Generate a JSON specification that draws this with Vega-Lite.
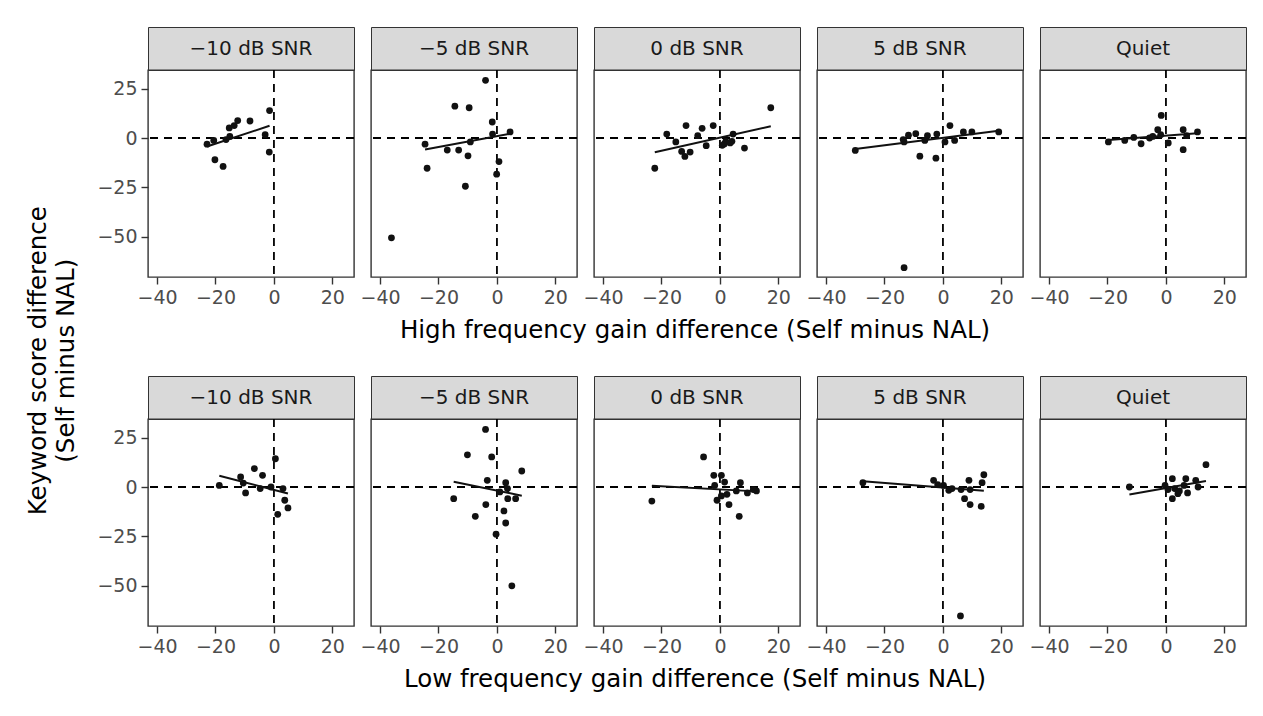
{
  "$schema": "https://vega.github.io/schema/vega-lite/v6.json",
  "padding": {"top": 26, "left": 25, "right": 5, "bottom": 5},
  "background": "#ffffff",
  "title": {"text": ["Keyword score difference", "(Self minus NAL)"], "orient": "left", "anchor": "middle", "fontSize": 24.5, "font": "DejaVu Sans", "fontWeight": "normal", "color": "#000000", "offset": 17, "lineHeight": 28},
  "config": {
    "font": "DejaVu Sans",
    "view": {"stroke": "#333333", "strokeWidth": 1.4},
    "axis": {"domain": false, "gridColor": "#ebebeb", "tickColor": "#333333", "tickSize": 7, "tickWidth": 1.4, "labelColor": "#4d4d4d", "labelFontSize": 19, "labelFont": "DejaVu Sans", "titleFont": "DejaVu Sans", "titleFontSize": 24, "titleFontWeight": "normal", "titleColor": "#000000", "labelPadding": 4, "titlePadding": 8, "minExtent": 0}
  },
  "datasets": {
    "pts": [
      {"freq":"High","snr":"-10","x":-22.9,"y":-3.1,"out":0},
      {"freq":"High","snr":"-10","x":-20.6,"y":-1.2,"out":0},
      {"freq":"High","snr":"-10","x":-20.2,"y":-11.0,"out":0},
      {"freq":"High","snr":"-10","x":-17.4,"y":-14.4,"out":0},
      {"freq":"High","snr":"-10","x":-16.4,"y":-0.8,"out":0},
      {"freq":"High","snr":"-10","x":-15.1,"y":0.8,"out":0},
      {"freq":"High","snr":"-10","x":-15.3,"y":5.1,"out":0},
      {"freq":"High","snr":"-10","x":-13.6,"y":6.3,"out":0},
      {"freq":"High","snr":"-10","x":-12.4,"y":8.8,"out":0},
      {"freq":"High","snr":"-10","x":-8.2,"y":8.6,"out":0},
      {"freq":"High","snr":"-10","x":-3.0,"y":1.7,"out":0},
      {"freq":"High","snr":"-10","x":-1.5,"y":13.9,"out":0},
      {"freq":"High","snr":"-10","x":-1.6,"y":-7.1,"out":0},

      {"freq":"High","snr":"-5","x":-3.9,"y":29.2,"out":0},
      {"freq":"High","snr":"-5","x":-14.4,"y":16.1,"out":0},
      {"freq":"High","snr":"-5","x":-9.5,"y":15.3,"out":0},
      {"freq":"High","snr":"-5","x":-1.6,"y":8.1,"out":0},
      {"freq":"High","snr":"-5","x":-1.5,"y":2.0,"out":0},
      {"freq":"High","snr":"-5","x":4.5,"y":3.1,"out":0},
      {"freq":"High","snr":"-5","x":-24.6,"y":-3.1,"out":0},
      {"freq":"High","snr":"-5","x":-9.1,"y":-2.0,"out":0},
      {"freq":"High","snr":"-5","x":-17.0,"y":-6.1,"out":0},
      {"freq":"High","snr":"-5","x":-13.1,"y":-6.1,"out":0},
      {"freq":"High","snr":"-5","x":-9.9,"y":-9.0,"out":0},
      {"freq":"High","snr":"-5","x":-23.9,"y":-15.3,"out":0},
      {"freq":"High","snr":"-5","x":0.7,"y":-11.9,"out":0},
      {"freq":"High","snr":"-5","x":-0.1,"y":-18.3,"out":0},
      {"freq":"High","snr":"-5","x":-10.8,"y":-24.4,"out":0},
      {"freq":"High","snr":"-5","x":-36.1,"y":-50.5,"out":1},

      {"freq":"High","snr":"0","x":17.4,"y":15.3,"out":0},
      {"freq":"High","snr":"0","x":-18.2,"y":2.0,"out":0},
      {"freq":"High","snr":"0","x":-11.6,"y":6.3,"out":0},
      {"freq":"High","snr":"0","x":-6.1,"y":4.9,"out":0},
      {"freq":"High","snr":"0","x":-2.3,"y":6.3,"out":0},
      {"freq":"High","snr":"0","x":-7.6,"y":1.2,"out":0},
      {"freq":"High","snr":"0","x":-15.1,"y":-2.0,"out":0},
      {"freq":"High","snr":"0","x":-13.1,"y":-6.8,"out":0},
      {"freq":"High","snr":"0","x":-12.0,"y":-9.3,"out":0},
      {"freq":"High","snr":"0","x":-10.2,"y":-7.1,"out":0},
      {"freq":"High","snr":"0","x":-4.7,"y":-3.9,"out":0},
      {"freq":"High","snr":"0","x":-22.3,"y":-15.3,"out":0},
      {"freq":"High","snr":"0","x":0.8,"y":-3.7,"out":0},
      {"freq":"High","snr":"0","x":2.0,"y":-1.7,"out":0},
      {"freq":"High","snr":"0","x":4.1,"y":-1.7,"out":0},
      {"freq":"High","snr":"0","x":4.5,"y":2.0,"out":0},
      {"freq":"High","snr":"0","x":8.4,"y":-5.1,"out":0},
      {"freq":"High","snr":"0","x":1.5,"y":-3.0,"out":0},
      {"freq":"High","snr":"0","x":3.5,"y":-2.5,"out":0},

      {"freq":"High","snr":"5","x":-30.0,"y":-6.3,"out":0},
      {"freq":"High","snr":"5","x":-13.3,"y":-2.0,"out":0},
      {"freq":"High","snr":"5","x":-13.6,"y":-0.8,"out":0},
      {"freq":"High","snr":"5","x":-11.8,"y":1.4,"out":0},
      {"freq":"High","snr":"5","x":-9.3,"y":2.2,"out":0},
      {"freq":"High","snr":"5","x":-5.3,"y":1.2,"out":0},
      {"freq":"High","snr":"5","x":-6.2,"y":-1.2,"out":0},
      {"freq":"High","snr":"5","x":-2.1,"y":2.0,"out":0},
      {"freq":"High","snr":"5","x":-7.9,"y":-9.2,"out":0},
      {"freq":"High","snr":"5","x":-2.4,"y":-10.2,"out":0},
      {"freq":"High","snr":"5","x":0.7,"y":-2.0,"out":0},
      {"freq":"High","snr":"5","x":2.4,"y":6.3,"out":0},
      {"freq":"High","snr":"5","x":4.0,"y":-1.2,"out":0},
      {"freq":"High","snr":"5","x":7.0,"y":3.1,"out":0},
      {"freq":"High","snr":"5","x":9.9,"y":3.1,"out":0},
      {"freq":"High","snr":"5","x":19.1,"y":3.1,"out":0},
      {"freq":"High","snr":"5","x":-13.3,"y":-65.6,"out":1},

      {"freq":"High","snr":"Quiet","x":-19.7,"y":-2.0,"out":0},
      {"freq":"High","snr":"Quiet","x":-14.1,"y":-1.2,"out":0},
      {"freq":"High","snr":"Quiet","x":-11.0,"y":0.3,"out":0},
      {"freq":"High","snr":"Quiet","x":-8.5,"y":-2.9,"out":0},
      {"freq":"High","snr":"Quiet","x":-5.6,"y":0.0,"out":0},
      {"freq":"High","snr":"Quiet","x":-4.5,"y":0.8,"out":0},
      {"freq":"High","snr":"Quiet","x":-2.8,"y":4.2,"out":0},
      {"freq":"High","snr":"Quiet","x":-1.6,"y":11.4,"out":0},
      {"freq":"High","snr":"Quiet","x":-1.8,"y":1.7,"out":0},
      {"freq":"High","snr":"Quiet","x":0.8,"y":-2.5,"out":0},
      {"freq":"High","snr":"Quiet","x":5.9,"y":4.2,"out":0},
      {"freq":"High","snr":"Quiet","x":7.1,"y":1.2,"out":0},
      {"freq":"High","snr":"Quiet","x":5.9,"y":-5.9,"out":0},
      {"freq":"High","snr":"Quiet","x":10.8,"y":3.1,"out":0},

      {"freq":"Low","snr":"-10","x":-18.7,"y":0.8,"out":0},
      {"freq":"Low","snr":"-10","x":-11.4,"y":5.1,"out":0},
      {"freq":"Low","snr":"-10","x":-10.5,"y":2.0,"out":0},
      {"freq":"Low","snr":"-10","x":-9.7,"y":-3.0,"out":0},
      {"freq":"Low","snr":"-10","x":-6.7,"y":9.3,"out":0},
      {"freq":"Low","snr":"-10","x":-3.9,"y":5.9,"out":0},
      {"freq":"Low","snr":"-10","x":-4.7,"y":-0.8,"out":0},
      {"freq":"Low","snr":"-10","x":-1.0,"y":0.0,"out":0},
      {"freq":"Low","snr":"-10","x":0.5,"y":14.3,"out":0},
      {"freq":"Low","snr":"-10","x":3.1,"y":-0.8,"out":0},
      {"freq":"Low","snr":"-10","x":3.7,"y":-6.7,"out":0},
      {"freq":"Low","snr":"-10","x":4.8,"y":-10.6,"out":0},
      {"freq":"Low","snr":"-10","x":1.3,"y":-13.8,"out":0},

      {"freq":"Low","snr":"-5","x":-3.9,"y":29.1,"out":0},
      {"freq":"Low","snr":"-5","x":-10.1,"y":16.3,"out":0},
      {"freq":"Low","snr":"-5","x":-1.8,"y":15.2,"out":0},
      {"freq":"Low","snr":"-5","x":8.5,"y":8.1,"out":0},
      {"freq":"Low","snr":"-5","x":-3.3,"y":3.4,"out":0},
      {"freq":"Low","snr":"-5","x":3.0,"y":2.2,"out":0},
      {"freq":"Low","snr":"-5","x":3.6,"y":-0.8,"out":0},
      {"freq":"Low","snr":"-5","x":1.0,"y":-2.5,"out":0},
      {"freq":"Low","snr":"-5","x":3.7,"y":-5.9,"out":0},
      {"freq":"Low","snr":"-5","x":6.4,"y":-5.9,"out":0},
      {"freq":"Low","snr":"-5","x":-14.8,"y":-5.9,"out":0},
      {"freq":"Low","snr":"-5","x":-3.8,"y":-8.9,"out":0},
      {"freq":"Low","snr":"-5","x":-7.4,"y":-14.8,"out":0},
      {"freq":"Low","snr":"-5","x":2.4,"y":-12.1,"out":0},
      {"freq":"Low","snr":"-5","x":3.0,"y":-18.2,"out":0},
      {"freq":"Low","snr":"-5","x":-0.3,"y":-23.9,"out":0},
      {"freq":"Low","snr":"-5","x":5.1,"y":-50.0,"out":1},

      {"freq":"Low","snr":"0","x":-5.6,"y":15.2,"out":0},
      {"freq":"Low","snr":"0","x":-23.3,"y":-7.1,"out":0},
      {"freq":"Low","snr":"0","x":-2.1,"y":5.9,"out":0},
      {"freq":"Low","snr":"0","x":0.5,"y":5.9,"out":0},
      {"freq":"Low","snr":"0","x":1.6,"y":2.5,"out":0},
      {"freq":"Low","snr":"0","x":-1.8,"y":0.8,"out":0},
      {"freq":"Low","snr":"0","x":7.0,"y":2.2,"out":0},
      {"freq":"Low","snr":"0","x":5.6,"y":-2.0,"out":0},
      {"freq":"Low","snr":"0","x":9.4,"y":-3.0,"out":0},
      {"freq":"Low","snr":"0","x":12.5,"y":-2.0,"out":0},
      {"freq":"Low","snr":"0","x":-1.0,"y":-6.7,"out":0},
      {"freq":"Low","snr":"0","x":0.5,"y":-4.5,"out":0},
      {"freq":"Low","snr":"0","x":2.4,"y":-3.7,"out":0},
      {"freq":"Low","snr":"0","x":3.1,"y":-8.9,"out":0},
      {"freq":"Low","snr":"0","x":6.6,"y":-14.8,"out":0},
      {"freq":"Low","snr":"0","x":11.4,"y":-1.3,"out":0},

      {"freq":"Low","snr":"5","x":-27.4,"y":2.2,"out":0},
      {"freq":"Low","snr":"5","x":-3.2,"y":3.4,"out":0},
      {"freq":"Low","snr":"5","x":-1.8,"y":1.2,"out":0},
      {"freq":"Low","snr":"5","x":0.2,"y":0.8,"out":0},
      {"freq":"Low","snr":"5","x":2.0,"y":-1.7,"out":0},
      {"freq":"Low","snr":"5","x":3.1,"y":-0.8,"out":0},
      {"freq":"Low","snr":"5","x":6.2,"y":-1.3,"out":0},
      {"freq":"Low","snr":"5","x":8.9,"y":3.4,"out":0},
      {"freq":"Low","snr":"5","x":9.3,"y":-1.3,"out":0},
      {"freq":"Low","snr":"5","x":7.4,"y":-5.9,"out":0},
      {"freq":"Low","snr":"5","x":9.3,"y":-8.9,"out":0},
      {"freq":"Low","snr":"5","x":13.1,"y":-9.8,"out":0},
      {"freq":"Low","snr":"5","x":13.4,"y":2.2,"out":0},
      {"freq":"Low","snr":"5","x":14.0,"y":6.2,"out":0},
      {"freq":"Low","snr":"5","x":6.0,"y":-65.2,"out":1},

      {"freq":"Low","snr":"Quiet","x":-12.5,"y":0.0,"out":0},
      {"freq":"Low","snr":"Quiet","x":13.7,"y":11.3,"out":0},
      {"freq":"Low","snr":"Quiet","x":-0.3,"y":0.8,"out":0},
      {"freq":"Low","snr":"Quiet","x":2.2,"y":4.2,"out":0},
      {"freq":"Low","snr":"Quiet","x":6.8,"y":4.2,"out":0},
      {"freq":"Low","snr":"Quiet","x":10.2,"y":3.4,"out":0},
      {"freq":"Low","snr":"Quiet","x":11.0,"y":0.0,"out":0},
      {"freq":"Low","snr":"Quiet","x":0.7,"y":-1.3,"out":0},
      {"freq":"Low","snr":"Quiet","x":3.0,"y":-0.8,"out":0},
      {"freq":"Low","snr":"Quiet","x":4.6,"y":-2.0,"out":0},
      {"freq":"Low","snr":"Quiet","x":2.2,"y":-5.9,"out":0},
      {"freq":"Low","snr":"Quiet","x":7.4,"y":-3.0,"out":0},
      {"freq":"Low","snr":"Quiet","x":4.1,"y":-3.4,"out":0},
      {"freq":"Low","snr":"Quiet","x":6.2,"y":0.8,"out":0}
    ]
  },
  "vconcat": [
    {"vconcat": [
      {"hconcat": [
        {"vconcat": [
          {"width": 206, "height": 43, "view": {"fill": "#d9d9d9", "stroke": "#333333"}, "data": {"values": [{"lab": "−10 dB SNR"}]}, "mark": {"type": "text", "fontSize": 20, "color": "#1a1a1a"}, "encoding": {"text": {"field": "lab"}}},
          {"width": 206, "height": 207,
           "layer": [
            {"data": {"values": [{}]}, "mark": {"type": "rule", "color": "#000000", "strokeWidth": 1.8, "strokeDash": [8, 6]}, "encoding": {"y": {"datum": 0, "type": "quantitative", "scale": {"domain": [-70.3, 34.4], "nice": false, "zero": false}, "axis": {"values": [25,12.5,0,-12.5,-25,-37.5,-50,-62.5], "labelExpr": "datum.value % 25 == 0 ? datum.label : ''", "labelOverlap": false, "labelFlush": false, "tickOpacity": {"condition": {"test": "datum.value % 25 != 0", "value": 0}, "value": 1}, "gridWidth": {"condition": {"test": "datum.value % 25 != 0", "value": 0.8}, "value": 1.6}, "title": null}}}},
            {"data": {"values": [{}]}, "mark": {"type": "rule", "color": "#000000", "strokeWidth": 1.8, "strokeDash": [8, 6]}, "encoding": {"x": {"datum": 0, "type": "quantitative", "scale": {"domain": [-43.1, 27.4], "nice": false, "zero": false}, "axis": {"values": [-40,-30,-20,-10,0,10,20], "labelExpr": "datum.value % 20 == 0 ? datum.label : ''", "labelOverlap": false, "labelFlush": false, "tickOpacity": {"condition": {"test": "datum.value % 20 != 0", "value": 0}, "value": 1}, "gridWidth": {"condition": {"test": "datum.value % 20 != 0", "value": 0.8}, "value": 1.6}, "title": null}}}},
            {"data": {"name": "pts"}, "transform": [{"filter": "datum.freq == 'High' && datum.snr == '-10'"}], "mark": {"type": "circle", "size": 46, "color": "#111111", "opacity": 1},
             "encoding": {
              "x": {"field": "x", "type": "quantitative", "scale": {"domain": [-43.1, 27.4], "nice": false, "zero": false}, "axis": {"values": [-40,-30,-20,-10,0,10,20], "labelExpr": "datum.value % 20 == 0 ? datum.label : ''", "labelOverlap": false, "labelFlush": false, "tickOpacity": {"condition": {"test": "datum.value % 20 != 0", "value": 0}, "value": 1}, "gridWidth": {"condition": {"test": "datum.value % 20 != 0", "value": 0.8}, "value": 1.6}, "title": null}},
              "y": {"field": "y", "type": "quantitative", "scale": {"domain": [-70.3, 34.4], "nice": false, "zero": false}, "axis": {"values": [25,12.5,0,-12.5,-25,-37.5,-50,-62.5], "labelExpr": "datum.value % 25 == 0 ? datum.label : ''", "labelOverlap": false, "labelFlush": false, "tickOpacity": {"condition": {"test": "datum.value % 25 != 0", "value": 0}, "value": 1}, "gridWidth": {"condition": {"test": "datum.value % 25 != 0", "value": 0.8}, "value": 1.6}, "title": null}}}},
            {"data": {"name": "pts"}, "transform": [{"filter": "datum.freq == 'High' && datum.snr == '-10' && datum.out == 0"}, {"regression": "y", "on": "x"}], "mark": {"type": "line", "color": "#111111", "strokeWidth": 2},
             "encoding": {
              "x": {"field": "x", "type": "quantitative", "scale": {"domain": [-43.1, 27.4], "nice": false, "zero": false}, "axis": {"values": [-40,-30,-20,-10,0,10,20], "labelExpr": "datum.value % 20 == 0 ? datum.label : ''", "labelOverlap": false, "labelFlush": false, "tickOpacity": {"condition": {"test": "datum.value % 20 != 0", "value": 0}, "value": 1}, "gridWidth": {"condition": {"test": "datum.value % 20 != 0", "value": 0.8}, "value": 1.6}, "title": null}},
              "y": {"field": "y", "type": "quantitative", "scale": {"domain": [-70.3, 34.4], "nice": false, "zero": false}, "axis": {"values": [25,12.5,0,-12.5,-25,-37.5,-50,-62.5], "labelExpr": "datum.value % 25 == 0 ? datum.label : ''", "labelOverlap": false, "labelFlush": false, "tickOpacity": {"condition": {"test": "datum.value % 25 != 0", "value": 0}, "value": 1}, "gridWidth": {"condition": {"test": "datum.value % 25 != 0", "value": 0.8}, "value": 1.6}, "title": null}}}}
           ]}
        ], "spacing": 0, "bounds": "flush"},
        {"vconcat": [
          {"width": 206, "height": 43, "view": {"fill": "#d9d9d9", "stroke": "#333333"}, "data": {"values": [{"lab": "−5 dB SNR"}]}, "mark": {"type": "text", "fontSize": 20, "color": "#1a1a1a"}, "encoding": {"text": {"field": "lab"}}},
          {"width": 206, "height": 207,
           "layer": [
            {"data": {"values": [{}]}, "mark": {"type": "rule", "color": "#000000", "strokeWidth": 1.8, "strokeDash": [8, 6]}, "encoding": {"y": {"datum": 0, "type": "quantitative", "scale": {"domain": [-70.3, 34.4], "nice": false, "zero": false}, "axis": {"values": [25,12.5,0,-12.5,-25,-37.5,-50,-62.5], "labels": false, "ticks": false, "gridWidth": {"condition": {"test": "datum.value % 25 != 0", "value": 0.8}, "value": 1.6}, "title": null}}}},
            {"data": {"values": [{}]}, "mark": {"type": "rule", "color": "#000000", "strokeWidth": 1.8, "strokeDash": [8, 6]}, "encoding": {"x": {"datum": 0, "type": "quantitative", "scale": {"domain": [-43.1, 27.4], "nice": false, "zero": false}, "axis": {"values": [-40,-30,-20,-10,0,10,20], "labelExpr": "datum.value % 20 == 0 ? datum.label : ''", "labelOverlap": false, "labelFlush": false, "tickOpacity": {"condition": {"test": "datum.value % 20 != 0", "value": 0}, "value": 1}, "gridWidth": {"condition": {"test": "datum.value % 20 != 0", "value": 0.8}, "value": 1.6}, "title": null}}}},
            {"data": {"name": "pts"}, "transform": [{"filter": "datum.freq == 'High' && datum.snr == '-5'"}], "mark": {"type": "circle", "size": 46, "color": "#111111", "opacity": 1},
             "encoding": {
              "x": {"field": "x", "type": "quantitative", "scale": {"domain": [-43.1, 27.4], "nice": false, "zero": false}, "axis": {"values": [-40,-30,-20,-10,0,10,20], "labelExpr": "datum.value % 20 == 0 ? datum.label : ''", "labelOverlap": false, "labelFlush": false, "tickOpacity": {"condition": {"test": "datum.value % 20 != 0", "value": 0}, "value": 1}, "gridWidth": {"condition": {"test": "datum.value % 20 != 0", "value": 0.8}, "value": 1.6}, "title": null}},
              "y": {"field": "y", "type": "quantitative", "scale": {"domain": [-70.3, 34.4], "nice": false, "zero": false}, "axis": {"values": [25,12.5,0,-12.5,-25,-37.5,-50,-62.5], "labels": false, "ticks": false, "gridWidth": {"condition": {"test": "datum.value % 25 != 0", "value": 0.8}, "value": 1.6}, "title": null}}}},
            {"data": {"name": "pts"}, "transform": [{"filter": "datum.freq == 'High' && datum.snr == '-5' && datum.out == 0"}, {"regression": "y", "on": "x"}], "mark": {"type": "line", "color": "#111111", "strokeWidth": 2},
             "encoding": {
              "x": {"field": "x", "type": "quantitative", "scale": {"domain": [-43.1, 27.4], "nice": false, "zero": false}, "axis": {"values": [-40,-30,-20,-10,0,10,20], "labelExpr": "datum.value % 20 == 0 ? datum.label : ''", "labelOverlap": false, "labelFlush": false, "tickOpacity": {"condition": {"test": "datum.value % 20 != 0", "value": 0}, "value": 1}, "gridWidth": {"condition": {"test": "datum.value % 20 != 0", "value": 0.8}, "value": 1.6}, "title": null}},
              "y": {"field": "y", "type": "quantitative", "scale": {"domain": [-70.3, 34.4], "nice": false, "zero": false}, "axis": {"values": [25,12.5,0,-12.5,-25,-37.5,-50,-62.5], "labels": false, "ticks": false, "gridWidth": {"condition": {"test": "datum.value % 25 != 0", "value": 0.8}, "value": 1.6}, "title": null}}}}
           ]}
        ], "spacing": 0, "bounds": "flush"},
        {"vconcat": [
          {"width": 206, "height": 43, "view": {"fill": "#d9d9d9", "stroke": "#333333"}, "data": {"values": [{"lab": "0 dB SNR"}]}, "mark": {"type": "text", "fontSize": 20, "color": "#1a1a1a"}, "encoding": {"text": {"field": "lab"}}},
          {"width": 206, "height": 207,
           "layer": [
            {"data": {"values": [{}]}, "mark": {"type": "rule", "color": "#000000", "strokeWidth": 1.8, "strokeDash": [8, 6]}, "encoding": {"y": {"datum": 0, "type": "quantitative", "scale": {"domain": [-70.3, 34.4], "nice": false, "zero": false}, "axis": {"values": [25,12.5,0,-12.5,-25,-37.5,-50,-62.5], "labels": false, "ticks": false, "gridWidth": {"condition": {"test": "datum.value % 25 != 0", "value": 0.8}, "value": 1.6}, "title": null}}}},
            {"data": {"values": [{}]}, "mark": {"type": "rule", "color": "#000000", "strokeWidth": 1.8, "strokeDash": [8, 6]}, "encoding": {"x": {"datum": 0, "type": "quantitative", "scale": {"domain": [-43.1, 27.4], "nice": false, "zero": false}, "axis": {"values": [-40,-30,-20,-10,0,10,20], "labelExpr": "datum.value % 20 == 0 ? datum.label : ''", "labelOverlap": false, "labelFlush": false, "tickOpacity": {"condition": {"test": "datum.value % 20 != 0", "value": 0}, "value": 1}, "gridWidth": {"condition": {"test": "datum.value % 20 != 0", "value": 0.8}, "value": 1.6}, "title": null}}}},
            {"data": {"name": "pts"}, "transform": [{"filter": "datum.freq == 'High' && datum.snr == '0'"}], "mark": {"type": "circle", "size": 46, "color": "#111111", "opacity": 1},
             "encoding": {
              "x": {"field": "x", "type": "quantitative", "scale": {"domain": [-43.1, 27.4], "nice": false, "zero": false}, "axis": {"values": [-40,-30,-20,-10,0,10,20], "labelExpr": "datum.value % 20 == 0 ? datum.label : ''", "labelOverlap": false, "labelFlush": false, "tickOpacity": {"condition": {"test": "datum.value % 20 != 0", "value": 0}, "value": 1}, "gridWidth": {"condition": {"test": "datum.value % 20 != 0", "value": 0.8}, "value": 1.6}, "title": null}},
              "y": {"field": "y", "type": "quantitative", "scale": {"domain": [-70.3, 34.4], "nice": false, "zero": false}, "axis": {"values": [25,12.5,0,-12.5,-25,-37.5,-50,-62.5], "labels": false, "ticks": false, "gridWidth": {"condition": {"test": "datum.value % 25 != 0", "value": 0.8}, "value": 1.6}, "title": null}}}},
            {"data": {"name": "pts"}, "transform": [{"filter": "datum.freq == 'High' && datum.snr == '0' && datum.out == 0"}, {"regression": "y", "on": "x"}], "mark": {"type": "line", "color": "#111111", "strokeWidth": 2},
             "encoding": {
              "x": {"field": "x", "type": "quantitative", "scale": {"domain": [-43.1, 27.4], "nice": false, "zero": false}, "axis": {"values": [-40,-30,-20,-10,0,10,20], "labelExpr": "datum.value % 20 == 0 ? datum.label : ''", "labelOverlap": false, "labelFlush": false, "tickOpacity": {"condition": {"test": "datum.value % 20 != 0", "value": 0}, "value": 1}, "gridWidth": {"condition": {"test": "datum.value % 20 != 0", "value": 0.8}, "value": 1.6}, "title": null}},
              "y": {"field": "y", "type": "quantitative", "scale": {"domain": [-70.3, 34.4], "nice": false, "zero": false}, "axis": {"values": [25,12.5,0,-12.5,-25,-37.5,-50,-62.5], "labels": false, "ticks": false, "gridWidth": {"condition": {"test": "datum.value % 25 != 0", "value": 0.8}, "value": 1.6}, "title": null}}}}
           ]}
        ], "spacing": 0, "bounds": "flush"},
        {"vconcat": [
          {"width": 206, "height": 43, "view": {"fill": "#d9d9d9", "stroke": "#333333"}, "data": {"values": [{"lab": "5 dB SNR"}]}, "mark": {"type": "text", "fontSize": 20, "color": "#1a1a1a"}, "encoding": {"text": {"field": "lab"}}},
          {"width": 206, "height": 207,
           "layer": [
            {"data": {"values": [{}]}, "mark": {"type": "rule", "color": "#000000", "strokeWidth": 1.8, "strokeDash": [8, 6]}, "encoding": {"y": {"datum": 0, "type": "quantitative", "scale": {"domain": [-70.3, 34.4], "nice": false, "zero": false}, "axis": {"values": [25,12.5,0,-12.5,-25,-37.5,-50,-62.5], "labels": false, "ticks": false, "gridWidth": {"condition": {"test": "datum.value % 25 != 0", "value": 0.8}, "value": 1.6}, "title": null}}}},
            {"data": {"values": [{}]}, "mark": {"type": "rule", "color": "#000000", "strokeWidth": 1.8, "strokeDash": [8, 6]}, "encoding": {"x": {"datum": 0, "type": "quantitative", "scale": {"domain": [-43.1, 27.4], "nice": false, "zero": false}, "axis": {"values": [-40,-30,-20,-10,0,10,20], "labelExpr": "datum.value % 20 == 0 ? datum.label : ''", "labelOverlap": false, "labelFlush": false, "tickOpacity": {"condition": {"test": "datum.value % 20 != 0", "value": 0}, "value": 1}, "gridWidth": {"condition": {"test": "datum.value % 20 != 0", "value": 0.8}, "value": 1.6}, "title": null}}}},
            {"data": {"name": "pts"}, "transform": [{"filter": "datum.freq == 'High' && datum.snr == '5'"}], "mark": {"type": "circle", "size": 46, "color": "#111111", "opacity": 1},
             "encoding": {
              "x": {"field": "x", "type": "quantitative", "scale": {"domain": [-43.1, 27.4], "nice": false, "zero": false}, "axis": {"values": [-40,-30,-20,-10,0,10,20], "labelExpr": "datum.value % 20 == 0 ? datum.label : ''", "labelOverlap": false, "labelFlush": false, "tickOpacity": {"condition": {"test": "datum.value % 20 != 0", "value": 0}, "value": 1}, "gridWidth": {"condition": {"test": "datum.value % 20 != 0", "value": 0.8}, "value": 1.6}, "title": null}},
              "y": {"field": "y", "type": "quantitative", "scale": {"domain": [-70.3, 34.4], "nice": false, "zero": false}, "axis": {"values": [25,12.5,0,-12.5,-25,-37.5,-50,-62.5], "labels": false, "ticks": false, "gridWidth": {"condition": {"test": "datum.value % 25 != 0", "value": 0.8}, "value": 1.6}, "title": null}}}},
            {"data": {"name": "pts"}, "transform": [{"filter": "datum.freq == 'High' && datum.snr == '5' && datum.out == 0"}, {"regression": "y", "on": "x"}], "mark": {"type": "line", "color": "#111111", "strokeWidth": 2},
             "encoding": {
              "x": {"field": "x", "type": "quantitative", "scale": {"domain": [-43.1, 27.4], "nice": false, "zero": false}, "axis": {"values": [-40,-30,-20,-10,0,10,20], "labelExpr": "datum.value % 20 == 0 ? datum.label : ''", "labelOverlap": false, "labelFlush": false, "tickOpacity": {"condition": {"test": "datum.value % 20 != 0", "value": 0}, "value": 1}, "gridWidth": {"condition": {"test": "datum.value % 20 != 0", "value": 0.8}, "value": 1.6}, "title": null}},
              "y": {"field": "y", "type": "quantitative", "scale": {"domain": [-70.3, 34.4], "nice": false, "zero": false}, "axis": {"values": [25,12.5,0,-12.5,-25,-37.5,-50,-62.5], "labels": false, "ticks": false, "gridWidth": {"condition": {"test": "datum.value % 25 != 0", "value": 0.8}, "value": 1.6}, "title": null}}}}
           ]}
        ], "spacing": 0, "bounds": "flush"},
        {"vconcat": [
          {"width": 206, "height": 43, "view": {"fill": "#d9d9d9", "stroke": "#333333"}, "data": {"values": [{"lab": "Quiet"}]}, "mark": {"type": "text", "fontSize": 20, "color": "#1a1a1a"}, "encoding": {"text": {"field": "lab"}}},
          {"width": 206, "height": 207,
           "layer": [
            {"data": {"values": [{}]}, "mark": {"type": "rule", "color": "#000000", "strokeWidth": 1.8, "strokeDash": [8, 6]}, "encoding": {"y": {"datum": 0, "type": "quantitative", "scale": {"domain": [-70.3, 34.4], "nice": false, "zero": false}, "axis": {"values": [25,12.5,0,-12.5,-25,-37.5,-50,-62.5], "labels": false, "ticks": false, "gridWidth": {"condition": {"test": "datum.value % 25 != 0", "value": 0.8}, "value": 1.6}, "title": null}}}},
            {"data": {"values": [{}]}, "mark": {"type": "rule", "color": "#000000", "strokeWidth": 1.8, "strokeDash": [8, 6]}, "encoding": {"x": {"datum": 0, "type": "quantitative", "scale": {"domain": [-43.1, 27.4], "nice": false, "zero": false}, "axis": {"values": [-40,-30,-20,-10,0,10,20], "labelExpr": "datum.value % 20 == 0 ? datum.label : ''", "labelOverlap": false, "labelFlush": false, "tickOpacity": {"condition": {"test": "datum.value % 20 != 0", "value": 0}, "value": 1}, "gridWidth": {"condition": {"test": "datum.value % 20 != 0", "value": 0.8}, "value": 1.6}, "title": null}}}},
            {"data": {"name": "pts"}, "transform": [{"filter": "datum.freq == 'High' && datum.snr == 'Quiet'"}], "mark": {"type": "circle", "size": 46, "color": "#111111", "opacity": 1},
             "encoding": {
              "x": {"field": "x", "type": "quantitative", "scale": {"domain": [-43.1, 27.4], "nice": false, "zero": false}, "axis": {"values": [-40,-30,-20,-10,0,10,20], "labelExpr": "datum.value % 20 == 0 ? datum.label : ''", "labelOverlap": false, "labelFlush": false, "tickOpacity": {"condition": {"test": "datum.value % 20 != 0", "value": 0}, "value": 1}, "gridWidth": {"condition": {"test": "datum.value % 20 != 0", "value": 0.8}, "value": 1.6}, "title": null}},
              "y": {"field": "y", "type": "quantitative", "scale": {"domain": [-70.3, 34.4], "nice": false, "zero": false}, "axis": {"values": [25,12.5,0,-12.5,-25,-37.5,-50,-62.5], "labels": false, "ticks": false, "gridWidth": {"condition": {"test": "datum.value % 25 != 0", "value": 0.8}, "value": 1.6}, "title": null}}}},
            {"data": {"name": "pts"}, "transform": [{"filter": "datum.freq == 'High' && datum.snr == 'Quiet' && datum.out == 0"}, {"regression": "y", "on": "x"}], "mark": {"type": "line", "color": "#111111", "strokeWidth": 2},
             "encoding": {
              "x": {"field": "x", "type": "quantitative", "scale": {"domain": [-43.1, 27.4], "nice": false, "zero": false}, "axis": {"values": [-40,-30,-20,-10,0,10,20], "labelExpr": "datum.value % 20 == 0 ? datum.label : ''", "labelOverlap": false, "labelFlush": false, "tickOpacity": {"condition": {"test": "datum.value % 20 != 0", "value": 0}, "value": 1}, "gridWidth": {"condition": {"test": "datum.value % 20 != 0", "value": 0.8}, "value": 1.6}, "title": null}},
              "y": {"field": "y", "type": "quantitative", "scale": {"domain": [-70.3, 34.4], "nice": false, "zero": false}, "axis": {"values": [25,12.5,0,-12.5,-25,-37.5,-50,-62.5], "labels": false, "ticks": false, "gridWidth": {"condition": {"test": "datum.value % 25 != 0", "value": 0.8}, "value": 1.6}, "title": null}}}}
           ]}
        ], "spacing": 0, "bounds": "flush"}
      ], "spacing": 3},
      {"width": 1094, "height": 30, "view": {"stroke": null}, "data": {"values": [{"t": "High frequency gain difference (Self minus NAL)"}]}, "mark": {"type": "text", "fontSize": 24.5, "color": "#000000"}, "encoding": {"text": {"field": "t"}}}
    ], "spacing": 8},
    {"vconcat": [
      {"hconcat": [
        {"vconcat": [
          {"width": 206, "height": 43, "view": {"fill": "#d9d9d9", "stroke": "#333333"}, "data": {"values": [{"lab": "−10 dB SNR"}]}, "mark": {"type": "text", "fontSize": 20, "color": "#1a1a1a"}, "encoding": {"text": {"field": "lab"}}},
          {"width": 206, "height": 207,
           "layer": [
            {"data": {"values": [{}]}, "mark": {"type": "rule", "color": "#000000", "strokeWidth": 1.8, "strokeDash": [8, 6]}, "encoding": {"y": {"datum": 0, "type": "quantitative", "scale": {"domain": [-70.3, 34.4], "nice": false, "zero": false}, "axis": {"values": [25,12.5,0,-12.5,-25,-37.5,-50,-62.5], "labelExpr": "datum.value % 25 == 0 ? datum.label : ''", "labelOverlap": false, "labelFlush": false, "tickOpacity": {"condition": {"test": "datum.value % 25 != 0", "value": 0}, "value": 1}, "gridWidth": {"condition": {"test": "datum.value % 25 != 0", "value": 0.8}, "value": 1.6}, "title": null}}}},
            {"data": {"values": [{}]}, "mark": {"type": "rule", "color": "#000000", "strokeWidth": 1.8, "strokeDash": [8, 6]}, "encoding": {"x": {"datum": 0, "type": "quantitative", "scale": {"domain": [-43.1, 27.4], "nice": false, "zero": false}, "axis": {"values": [-40,-30,-20,-10,0,10,20], "labelExpr": "datum.value % 20 == 0 ? datum.label : ''", "labelOverlap": false, "labelFlush": false, "tickOpacity": {"condition": {"test": "datum.value % 20 != 0", "value": 0}, "value": 1}, "gridWidth": {"condition": {"test": "datum.value % 20 != 0", "value": 0.8}, "value": 1.6}, "title": null}}}},
            {"data": {"name": "pts"}, "transform": [{"filter": "datum.freq == 'Low' && datum.snr == '-10'"}], "mark": {"type": "circle", "size": 46, "color": "#111111", "opacity": 1},
             "encoding": {
              "x": {"field": "x", "type": "quantitative", "scale": {"domain": [-43.1, 27.4], "nice": false, "zero": false}, "axis": {"values": [-40,-30,-20,-10,0,10,20], "labelExpr": "datum.value % 20 == 0 ? datum.label : ''", "labelOverlap": false, "labelFlush": false, "tickOpacity": {"condition": {"test": "datum.value % 20 != 0", "value": 0}, "value": 1}, "gridWidth": {"condition": {"test": "datum.value % 20 != 0", "value": 0.8}, "value": 1.6}, "title": null}},
              "y": {"field": "y", "type": "quantitative", "scale": {"domain": [-70.3, 34.4], "nice": false, "zero": false}, "axis": {"values": [25,12.5,0,-12.5,-25,-37.5,-50,-62.5], "labelExpr": "datum.value % 25 == 0 ? datum.label : ''", "labelOverlap": false, "labelFlush": false, "tickOpacity": {"condition": {"test": "datum.value % 25 != 0", "value": 0}, "value": 1}, "gridWidth": {"condition": {"test": "datum.value % 25 != 0", "value": 0.8}, "value": 1.6}, "title": null}}}},
            {"data": {"name": "pts"}, "transform": [{"filter": "datum.freq == 'Low' && datum.snr == '-10' && datum.out == 0"}, {"regression": "y", "on": "x"}], "mark": {"type": "line", "color": "#111111", "strokeWidth": 2},
             "encoding": {
              "x": {"field": "x", "type": "quantitative", "scale": {"domain": [-43.1, 27.4], "nice": false, "zero": false}, "axis": {"values": [-40,-30,-20,-10,0,10,20], "labelExpr": "datum.value % 20 == 0 ? datum.label : ''", "labelOverlap": false, "labelFlush": false, "tickOpacity": {"condition": {"test": "datum.value % 20 != 0", "value": 0}, "value": 1}, "gridWidth": {"condition": {"test": "datum.value % 20 != 0", "value": 0.8}, "value": 1.6}, "title": null}},
              "y": {"field": "y", "type": "quantitative", "scale": {"domain": [-70.3, 34.4], "nice": false, "zero": false}, "axis": {"values": [25,12.5,0,-12.5,-25,-37.5,-50,-62.5], "labelExpr": "datum.value % 25 == 0 ? datum.label : ''", "labelOverlap": false, "labelFlush": false, "tickOpacity": {"condition": {"test": "datum.value % 25 != 0", "value": 0}, "value": 1}, "gridWidth": {"condition": {"test": "datum.value % 25 != 0", "value": 0.8}, "value": 1.6}, "title": null}}}}
           ]}
        ], "spacing": 0, "bounds": "flush"},
        {"vconcat": [
          {"width": 206, "height": 43, "view": {"fill": "#d9d9d9", "stroke": "#333333"}, "data": {"values": [{"lab": "−5 dB SNR"}]}, "mark": {"type": "text", "fontSize": 20, "color": "#1a1a1a"}, "encoding": {"text": {"field": "lab"}}},
          {"width": 206, "height": 207,
           "layer": [
            {"data": {"values": [{}]}, "mark": {"type": "rule", "color": "#000000", "strokeWidth": 1.8, "strokeDash": [8, 6]}, "encoding": {"y": {"datum": 0, "type": "quantitative", "scale": {"domain": [-70.3, 34.4], "nice": false, "zero": false}, "axis": {"values": [25,12.5,0,-12.5,-25,-37.5,-50,-62.5], "labels": false, "ticks": false, "gridWidth": {"condition": {"test": "datum.value % 25 != 0", "value": 0.8}, "value": 1.6}, "title": null}}}},
            {"data": {"values": [{}]}, "mark": {"type": "rule", "color": "#000000", "strokeWidth": 1.8, "strokeDash": [8, 6]}, "encoding": {"x": {"datum": 0, "type": "quantitative", "scale": {"domain": [-43.1, 27.4], "nice": false, "zero": false}, "axis": {"values": [-40,-30,-20,-10,0,10,20], "labelExpr": "datum.value % 20 == 0 ? datum.label : ''", "labelOverlap": false, "labelFlush": false, "tickOpacity": {"condition": {"test": "datum.value % 20 != 0", "value": 0}, "value": 1}, "gridWidth": {"condition": {"test": "datum.value % 20 != 0", "value": 0.8}, "value": 1.6}, "title": null}}}},
            {"data": {"name": "pts"}, "transform": [{"filter": "datum.freq == 'Low' && datum.snr == '-5'"}], "mark": {"type": "circle", "size": 46, "color": "#111111", "opacity": 1},
             "encoding": {
              "x": {"field": "x", "type": "quantitative", "scale": {"domain": [-43.1, 27.4], "nice": false, "zero": false}, "axis": {"values": [-40,-30,-20,-10,0,10,20], "labelExpr": "datum.value % 20 == 0 ? datum.label : ''", "labelOverlap": false, "labelFlush": false, "tickOpacity": {"condition": {"test": "datum.value % 20 != 0", "value": 0}, "value": 1}, "gridWidth": {"condition": {"test": "datum.value % 20 != 0", "value": 0.8}, "value": 1.6}, "title": null}},
              "y": {"field": "y", "type": "quantitative", "scale": {"domain": [-70.3, 34.4], "nice": false, "zero": false}, "axis": {"values": [25,12.5,0,-12.5,-25,-37.5,-50,-62.5], "labels": false, "ticks": false, "gridWidth": {"condition": {"test": "datum.value % 25 != 0", "value": 0.8}, "value": 1.6}, "title": null}}}},
            {"data": {"name": "pts"}, "transform": [{"filter": "datum.freq == 'Low' && datum.snr == '-5' && datum.out == 0"}, {"regression": "y", "on": "x"}], "mark": {"type": "line", "color": "#111111", "strokeWidth": 2},
             "encoding": {
              "x": {"field": "x", "type": "quantitative", "scale": {"domain": [-43.1, 27.4], "nice": false, "zero": false}, "axis": {"values": [-40,-30,-20,-10,0,10,20], "labelExpr": "datum.value % 20 == 0 ? datum.label : ''", "labelOverlap": false, "labelFlush": false, "tickOpacity": {"condition": {"test": "datum.value % 20 != 0", "value": 0}, "value": 1}, "gridWidth": {"condition": {"test": "datum.value % 20 != 0", "value": 0.8}, "value": 1.6}, "title": null}},
              "y": {"field": "y", "type": "quantitative", "scale": {"domain": [-70.3, 34.4], "nice": false, "zero": false}, "axis": {"values": [25,12.5,0,-12.5,-25,-37.5,-50,-62.5], "labels": false, "ticks": false, "gridWidth": {"condition": {"test": "datum.value % 25 != 0", "value": 0.8}, "value": 1.6}, "title": null}}}}
           ]}
        ], "spacing": 0, "bounds": "flush"},
        {"vconcat": [
          {"width": 206, "height": 43, "view": {"fill": "#d9d9d9", "stroke": "#333333"}, "data": {"values": [{"lab": "0 dB SNR"}]}, "mark": {"type": "text", "fontSize": 20, "color": "#1a1a1a"}, "encoding": {"text": {"field": "lab"}}},
          {"width": 206, "height": 207,
           "layer": [
            {"data": {"values": [{}]}, "mark": {"type": "rule", "color": "#000000", "strokeWidth": 1.8, "strokeDash": [8, 6]}, "encoding": {"y": {"datum": 0, "type": "quantitative", "scale": {"domain": [-70.3, 34.4], "nice": false, "zero": false}, "axis": {"values": [25,12.5,0,-12.5,-25,-37.5,-50,-62.5], "labels": false, "ticks": false, "gridWidth": {"condition": {"test": "datum.value % 25 != 0", "value": 0.8}, "value": 1.6}, "title": null}}}},
            {"data": {"values": [{}]}, "mark": {"type": "rule", "color": "#000000", "strokeWidth": 1.8, "strokeDash": [8, 6]}, "encoding": {"x": {"datum": 0, "type": "quantitative", "scale": {"domain": [-43.1, 27.4], "nice": false, "zero": false}, "axis": {"values": [-40,-30,-20,-10,0,10,20], "labelExpr": "datum.value % 20 == 0 ? datum.label : ''", "labelOverlap": false, "labelFlush": false, "tickOpacity": {"condition": {"test": "datum.value % 20 != 0", "value": 0}, "value": 1}, "gridWidth": {"condition": {"test": "datum.value % 20 != 0", "value": 0.8}, "value": 1.6}, "title": null}}}},
            {"data": {"name": "pts"}, "transform": [{"filter": "datum.freq == 'Low' && datum.snr == '0'"}], "mark": {"type": "circle", "size": 46, "color": "#111111", "opacity": 1},
             "encoding": {
              "x": {"field": "x", "type": "quantitative", "scale": {"domain": [-43.1, 27.4], "nice": false, "zero": false}, "axis": {"values": [-40,-30,-20,-10,0,10,20], "labelExpr": "datum.value % 20 == 0 ? datum.label : ''", "labelOverlap": false, "labelFlush": false, "tickOpacity": {"condition": {"test": "datum.value % 20 != 0", "value": 0}, "value": 1}, "gridWidth": {"condition": {"test": "datum.value % 20 != 0", "value": 0.8}, "value": 1.6}, "title": null}},
              "y": {"field": "y", "type": "quantitative", "scale": {"domain": [-70.3, 34.4], "nice": false, "zero": false}, "axis": {"values": [25,12.5,0,-12.5,-25,-37.5,-50,-62.5], "labels": false, "ticks": false, "gridWidth": {"condition": {"test": "datum.value % 25 != 0", "value": 0.8}, "value": 1.6}, "title": null}}}},
            {"data": {"name": "pts"}, "transform": [{"filter": "datum.freq == 'Low' && datum.snr == '0' && datum.out == 0"}, {"regression": "y", "on": "x"}], "mark": {"type": "line", "color": "#111111", "strokeWidth": 2},
             "encoding": {
              "x": {"field": "x", "type": "quantitative", "scale": {"domain": [-43.1, 27.4], "nice": false, "zero": false}, "axis": {"values": [-40,-30,-20,-10,0,10,20], "labelExpr": "datum.value % 20 == 0 ? datum.label : ''", "labelOverlap": false, "labelFlush": false, "tickOpacity": {"condition": {"test": "datum.value % 20 != 0", "value": 0}, "value": 1}, "gridWidth": {"condition": {"test": "datum.value % 20 != 0", "value": 0.8}, "value": 1.6}, "title": null}},
              "y": {"field": "y", "type": "quantitative", "scale": {"domain": [-70.3, 34.4], "nice": false, "zero": false}, "axis": {"values": [25,12.5,0,-12.5,-25,-37.5,-50,-62.5], "labels": false, "ticks": false, "gridWidth": {"condition": {"test": "datum.value % 25 != 0", "value": 0.8}, "value": 1.6}, "title": null}}}}
           ]}
        ], "spacing": 0, "bounds": "flush"},
        {"vconcat": [
          {"width": 206, "height": 43, "view": {"fill": "#d9d9d9", "stroke": "#333333"}, "data": {"values": [{"lab": "5 dB SNR"}]}, "mark": {"type": "text", "fontSize": 20, "color": "#1a1a1a"}, "encoding": {"text": {"field": "lab"}}},
          {"width": 206, "height": 207,
           "layer": [
            {"data": {"values": [{}]}, "mark": {"type": "rule", "color": "#000000", "strokeWidth": 1.8, "strokeDash": [8, 6]}, "encoding": {"y": {"datum": 0, "type": "quantitative", "scale": {"domain": [-70.3, 34.4], "nice": false, "zero": false}, "axis": {"values": [25,12.5,0,-12.5,-25,-37.5,-50,-62.5], "labels": false, "ticks": false, "gridWidth": {"condition": {"test": "datum.value % 25 != 0", "value": 0.8}, "value": 1.6}, "title": null}}}},
            {"data": {"values": [{}]}, "mark": {"type": "rule", "color": "#000000", "strokeWidth": 1.8, "strokeDash": [8, 6]}, "encoding": {"x": {"datum": 0, "type": "quantitative", "scale": {"domain": [-43.1, 27.4], "nice": false, "zero": false}, "axis": {"values": [-40,-30,-20,-10,0,10,20], "labelExpr": "datum.value % 20 == 0 ? datum.label : ''", "labelOverlap": false, "labelFlush": false, "tickOpacity": {"condition": {"test": "datum.value % 20 != 0", "value": 0}, "value": 1}, "gridWidth": {"condition": {"test": "datum.value % 20 != 0", "value": 0.8}, "value": 1.6}, "title": null}}}},
            {"data": {"name": "pts"}, "transform": [{"filter": "datum.freq == 'Low' && datum.snr == '5'"}], "mark": {"type": "circle", "size": 46, "color": "#111111", "opacity": 1},
             "encoding": {
              "x": {"field": "x", "type": "quantitative", "scale": {"domain": [-43.1, 27.4], "nice": false, "zero": false}, "axis": {"values": [-40,-30,-20,-10,0,10,20], "labelExpr": "datum.value % 20 == 0 ? datum.label : ''", "labelOverlap": false, "labelFlush": false, "tickOpacity": {"condition": {"test": "datum.value % 20 != 0", "value": 0}, "value": 1}, "gridWidth": {"condition": {"test": "datum.value % 20 != 0", "value": 0.8}, "value": 1.6}, "title": null}},
              "y": {"field": "y", "type": "quantitative", "scale": {"domain": [-70.3, 34.4], "nice": false, "zero": false}, "axis": {"values": [25,12.5,0,-12.5,-25,-37.5,-50,-62.5], "labels": false, "ticks": false, "gridWidth": {"condition": {"test": "datum.value % 25 != 0", "value": 0.8}, "value": 1.6}, "title": null}}}},
            {"data": {"name": "pts"}, "transform": [{"filter": "datum.freq == 'Low' && datum.snr == '5' && datum.out == 0"}, {"regression": "y", "on": "x"}], "mark": {"type": "line", "color": "#111111", "strokeWidth": 2},
             "encoding": {
              "x": {"field": "x", "type": "quantitative", "scale": {"domain": [-43.1, 27.4], "nice": false, "zero": false}, "axis": {"values": [-40,-30,-20,-10,0,10,20], "labelExpr": "datum.value % 20 == 0 ? datum.label : ''", "labelOverlap": false, "labelFlush": false, "tickOpacity": {"condition": {"test": "datum.value % 20 != 0", "value": 0}, "value": 1}, "gridWidth": {"condition": {"test": "datum.value % 20 != 0", "value": 0.8}, "value": 1.6}, "title": null}},
              "y": {"field": "y", "type": "quantitative", "scale": {"domain": [-70.3, 34.4], "nice": false, "zero": false}, "axis": {"values": [25,12.5,0,-12.5,-25,-37.5,-50,-62.5], "labels": false, "ticks": false, "gridWidth": {"condition": {"test": "datum.value % 25 != 0", "value": 0.8}, "value": 1.6}, "title": null}}}}
           ]}
        ], "spacing": 0, "bounds": "flush"},
        {"vconcat": [
          {"width": 206, "height": 43, "view": {"fill": "#d9d9d9", "stroke": "#333333"}, "data": {"values": [{"lab": "Quiet"}]}, "mark": {"type": "text", "fontSize": 20, "color": "#1a1a1a"}, "encoding": {"text": {"field": "lab"}}},
          {"width": 206, "height": 207,
           "layer": [
            {"data": {"values": [{}]}, "mark": {"type": "rule", "color": "#000000", "strokeWidth": 1.8, "strokeDash": [8, 6]}, "encoding": {"y": {"datum": 0, "type": "quantitative", "scale": {"domain": [-70.3, 34.4], "nice": false, "zero": false}, "axis": {"values": [25,12.5,0,-12.5,-25,-37.5,-50,-62.5], "labels": false, "ticks": false, "gridWidth": {"condition": {"test": "datum.value % 25 != 0", "value": 0.8}, "value": 1.6}, "title": null}}}},
            {"data": {"values": [{}]}, "mark": {"type": "rule", "color": "#000000", "strokeWidth": 1.8, "strokeDash": [8, 6]}, "encoding": {"x": {"datum": 0, "type": "quantitative", "scale": {"domain": [-43.1, 27.4], "nice": false, "zero": false}, "axis": {"values": [-40,-30,-20,-10,0,10,20], "labelExpr": "datum.value % 20 == 0 ? datum.label : ''", "labelOverlap": false, "labelFlush": false, "tickOpacity": {"condition": {"test": "datum.value % 20 != 0", "value": 0}, "value": 1}, "gridWidth": {"condition": {"test": "datum.value % 20 != 0", "value": 0.8}, "value": 1.6}, "title": null}}}},
            {"data": {"name": "pts"}, "transform": [{"filter": "datum.freq == 'Low' && datum.snr == 'Quiet'"}], "mark": {"type": "circle", "size": 46, "color": "#111111", "opacity": 1},
             "encoding": {
              "x": {"field": "x", "type": "quantitative", "scale": {"domain": [-43.1, 27.4], "nice": false, "zero": false}, "axis": {"values": [-40,-30,-20,-10,0,10,20], "labelExpr": "datum.value % 20 == 0 ? datum.label : ''", "labelOverlap": false, "labelFlush": false, "tickOpacity": {"condition": {"test": "datum.value % 20 != 0", "value": 0}, "value": 1}, "gridWidth": {"condition": {"test": "datum.value % 20 != 0", "value": 0.8}, "value": 1.6}, "title": null}},
              "y": {"field": "y", "type": "quantitative", "scale": {"domain": [-70.3, 34.4], "nice": false, "zero": false}, "axis": {"values": [25,12.5,0,-12.5,-25,-37.5,-50,-62.5], "labels": false, "ticks": false, "gridWidth": {"condition": {"test": "datum.value % 25 != 0", "value": 0.8}, "value": 1.6}, "title": null}}}},
            {"data": {"name": "pts"}, "transform": [{"filter": "datum.freq == 'Low' && datum.snr == 'Quiet' && datum.out == 0"}, {"regression": "y", "on": "x"}], "mark": {"type": "line", "color": "#111111", "strokeWidth": 2},
             "encoding": {
              "x": {"field": "x", "type": "quantitative", "scale": {"domain": [-43.1, 27.4], "nice": false, "zero": false}, "axis": {"values": [-40,-30,-20,-10,0,10,20], "labelExpr": "datum.value % 20 == 0 ? datum.label : ''", "labelOverlap": false, "labelFlush": false, "tickOpacity": {"condition": {"test": "datum.value % 20 != 0", "value": 0}, "value": 1}, "gridWidth": {"condition": {"test": "datum.value % 20 != 0", "value": 0.8}, "value": 1.6}, "title": null}},
              "y": {"field": "y", "type": "quantitative", "scale": {"domain": [-70.3, 34.4], "nice": false, "zero": false}, "axis": {"values": [25,12.5,0,-12.5,-25,-37.5,-50,-62.5], "labels": false, "ticks": false, "gridWidth": {"condition": {"test": "datum.value % 25 != 0", "value": 0.8}, "value": 1.6}, "title": null}}}}
           ]}
        ], "spacing": 0, "bounds": "flush"}
      ], "spacing": 3},
      {"width": 1094, "height": 30, "view": {"stroke": null}, "data": {"values": [{"t": "Low frequency gain difference (Self minus NAL)"}]}, "mark": {"type": "text", "fontSize": 24.5, "color": "#000000"}, "encoding": {"text": {"field": "t"}}}
    ], "spacing": 8}
  ],
  "spacing": 29
}
